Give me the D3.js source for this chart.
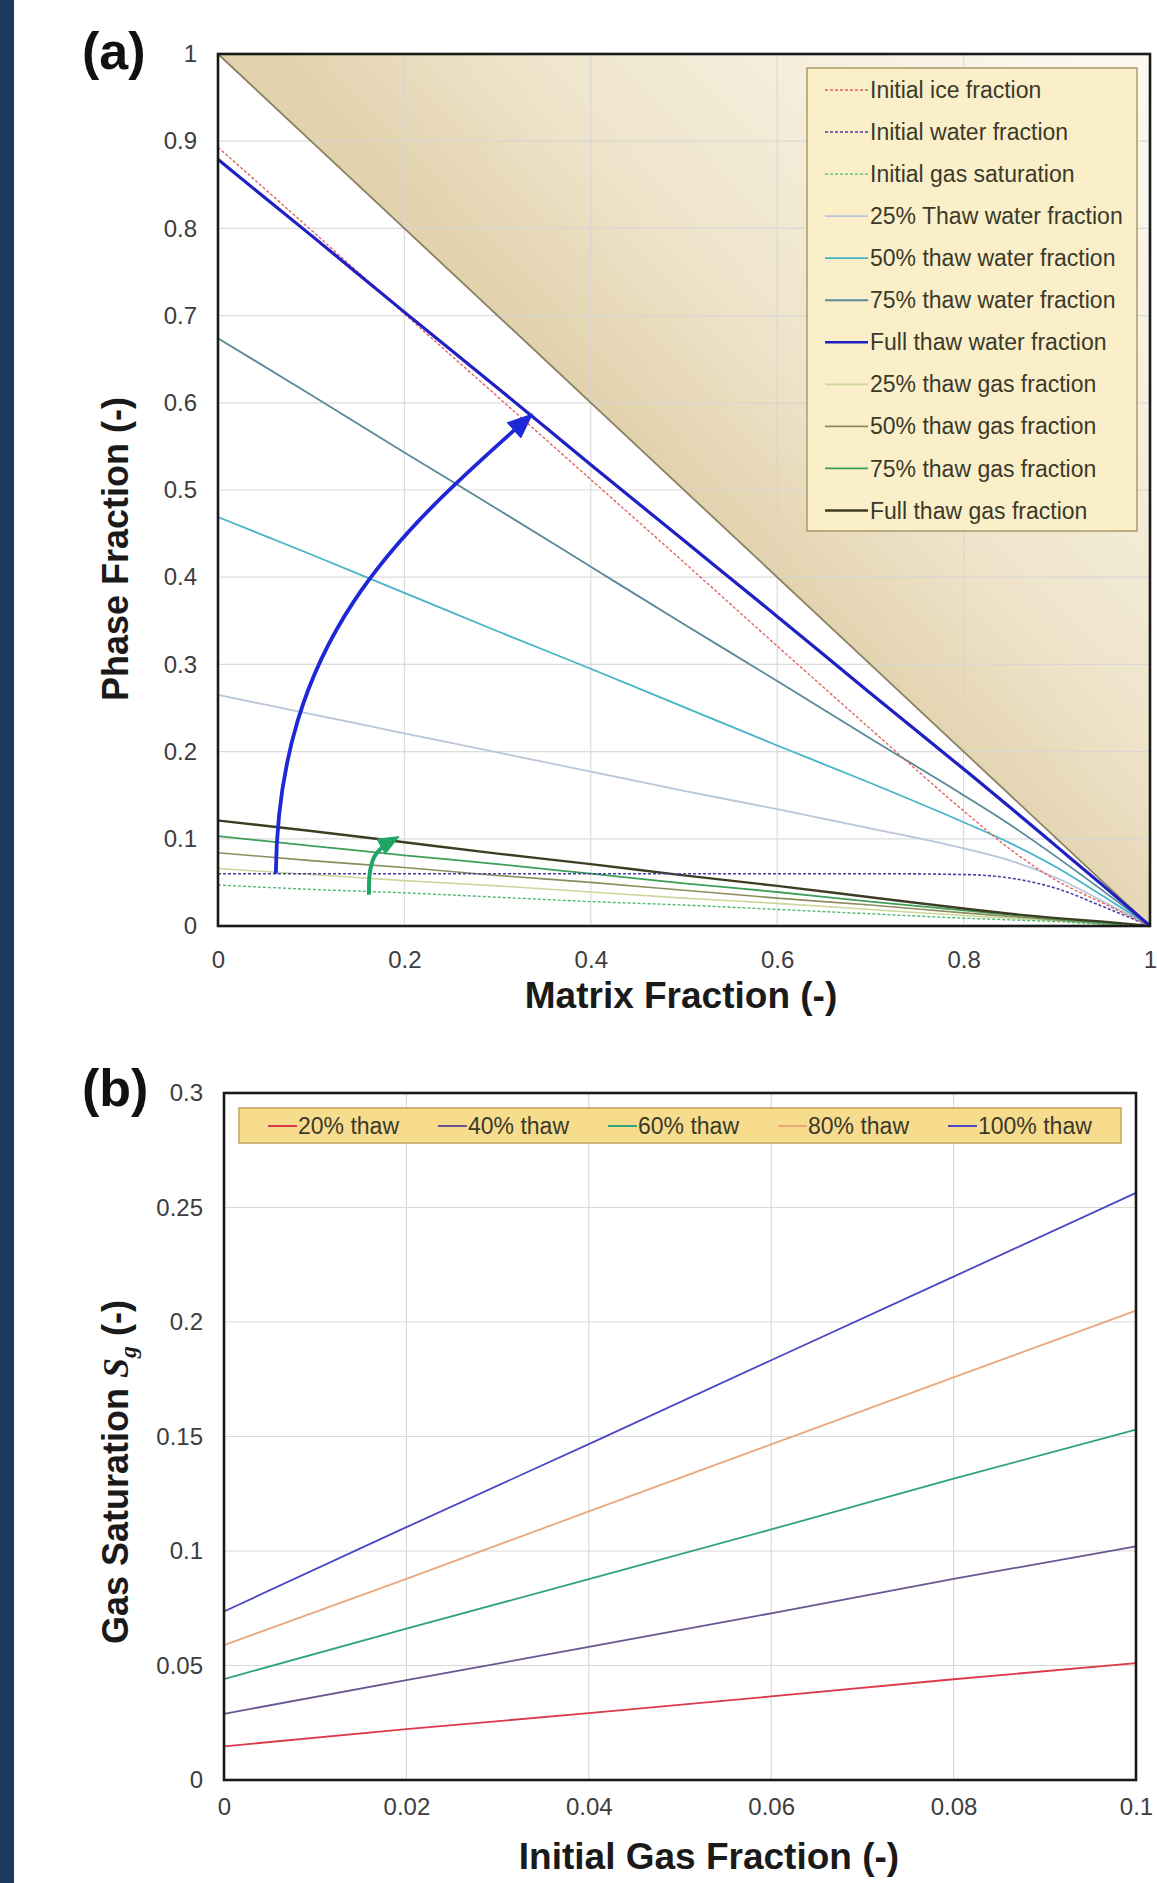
<!DOCTYPE html>
<html><head><meta charset="utf-8">
<script src="https://cdn.jsdelivr.net/npm/d3@7"></script>
<style>
html,body{margin:0;padding:0;background:#fff;}
svg{display:block;}
</style></head><body>
<svg id="chart" width="1157" height="1883"></svg>
<script>
// ================= Panel (a) data =================
const matrixX = [0, 0.1, 0.2, 0.3, 0.4, 0.5, 0.6, 0.7, 0.8, 0.85, 0.9, 0.95, 1];
const initialIce   = [0.893, 0.798, 0.702, 0.607, 0.512, 0.417, 0.321, 0.226, 0.132, 0.088, 0.052, 0.026, 0];
const initialWater = [0.060, 0.060, 0.060, 0.060, 0.060, 0.060, 0.060, 0.060, 0.059, 0.055, 0.043, 0.022, 0];
const initialGas   = [0.047, 0.042, 0.038, 0.033, 0.028, 0.024, 0.019, 0.014, 0.009, 0.007, 0.005, 0.002, 0];
const thaw25Water  = [0.265, 0.243, 0.221, 0.199, 0.177, 0.155, 0.134, 0.112, 0.089, 0.075, 0.055, 0.028, 0];
const thaw50Water  = [0.469, 0.426, 0.382, 0.338, 0.295, 0.251, 0.207, 0.164, 0.119, 0.095, 0.067, 0.034, 0];
const thaw75Water  = [0.674, 0.609, 0.543, 0.478, 0.412, 0.346, 0.281, 0.215, 0.150, 0.116, 0.079, 0.040, 0];
const fullWater    = [0.879, 0.792, 0.704, 0.617, 0.529, 0.442, 0.355, 0.267, 0.180, 0.136, 0.091, 0.046, 0];
const thaw25Gas    = [0.066, 0.059, 0.052, 0.046, 0.039, 0.032, 0.026, 0.019, 0.012, 0.009, 0.006, 0.003, 0];
const thaw50Gas    = [0.084, 0.075, 0.067, 0.058, 0.050, 0.041, 0.032, 0.024, 0.015, 0.011, 0.007, 0.003, 0];
const thaw75Gas    = [0.103, 0.092, 0.081, 0.071, 0.060, 0.049, 0.039, 0.028, 0.018, 0.013, 0.008, 0.004, 0];
const fullGas      = [0.121, 0.109, 0.096, 0.083, 0.071, 0.058, 0.046, 0.033, 0.020, 0.014, 0.009, 0.005, 0];
const boundaryLine = [[0, 1], [1, 0]];
const shadeTriangle = [[0, 1], [1, 1], [1, 0]];
// blue arrow: start, two Bezier control points, end (data units)
const blueArrowBezier = [[0.062, 0.06], [0.065, 0.33], [0.193, 0.45], [0.333, 0.583]];
const greenArrowPts = [[0.162, 0.036], [0.163, 0.062], [0.168, 0.08], [0.177, 0.091], [0.19, 0.1]];
const seriesNamesA = ["Initial ice fraction", "Initial water fraction", "Initial gas saturation",
  "25% Thaw water fraction", "50% thaw water fraction", "75% thaw water fraction", "Full thaw water fraction",
  "25% thaw gas fraction", "50% thaw gas fraction", "75% thaw gas fraction", "Full thaw gas fraction"];
const seriesValuesA = [initialIce, initialWater, initialGas, thaw25Water, thaw50Water, thaw75Water, fullWater,
  thaw25Gas, thaw50Gas, thaw75Gas, fullGas];
const xTicksA = [0, 0.2, 0.4, 0.6, 0.8, 1];
const xTickLabelsA = ["0", "0.2", "0.4", "0.6", "0.8", "1"];
const yTicksA = [0, 0.1, 0.2, 0.3, 0.4, 0.5, 0.6, 0.7, 0.8, 0.9, 1];
const yTickLabelsA = ["0", "0.1", "0.2", "0.3", "0.4", "0.5", "0.6", "0.7", "0.8", "0.9", "1"];

// ================= Panel (b) data =================
const initialGasX = [0, 0.02, 0.04, 0.06, 0.08, 0.1];
const seriesNamesB = ["20% thaw", "40% thaw", "60% thaw", "80% thaw", "100% thaw"];
const thaw20 = [0.0147, 0.0222, 0.0292, 0.0365, 0.0440, 0.0510];
const thaw40 = [0.0289, 0.0436, 0.0581, 0.0728, 0.0878, 0.1020];
const thaw60 = [0.0441, 0.0661, 0.0877, 0.1094, 0.1316, 0.1530];
const thaw80 = [0.0589, 0.0878, 0.1173, 0.1466, 0.1758, 0.2050];
const thaw100 = [0.0736, 0.1104, 0.1467, 0.1833, 0.2198, 0.2564];
const seriesValuesB = [thaw20, thaw40, thaw60, thaw80, thaw100];
const xTicksB = [0, 0.02, 0.04, 0.06, 0.08, 0.1];
const xTickLabelsB = ["0", "0.02", "0.04", "0.06", "0.08", "0.1"];
const yTicksB = [0, 0.05, 0.1, 0.15, 0.2, 0.25, 0.3];
const yTickLabelsB = ["0", "0.05", "0.1", "0.15", "0.2", "0.25", "0.3"];

// ================= Styles =================
const stylesA = [
  {color: "#e2625c", width: 1.4, dash: "3,2"},
  {color: "#4a3fa8", width: 1.6, dash: "3,2"},
  {color: "#4fb874", width: 1.4, dash: "3,2"},
  {color: "#b9c6da", width: 1.8, dash: null},
  {color: "#45b4c6", width: 1.8, dash: null},
  {color: "#5a8899", width: 1.8, dash: null},
  {color: "#1f1fc4", width: 3.2, dash: null},
  {color: "#ccd79a", width: 1.6, dash: null},
  {color: "#8c8c5c", width: 1.6, dash: null},
  {color: "#3f9e58", width: 1.8, dash: null},
  {color: "#3d3d22", width: 2.4, dash: null}
];
const drawOrderA = [7, 8, 9, 10, 2, 1, 3, 4, 5, 0, 6];
const stylesB = ["#dc3a4c", "#6b5590", "#2fa37a", "#e9a77c", "#4a48c6"];
const FONT = "'Liberation Sans', Arial, Helvetica, sans-serif";
const tickColor = "#3d3d3d";

const svg = d3.select("#chart");
svg.append("rect").attr("x", 0).attr("y", 0).attr("width", 1157).attr("height", 1883).attr("fill", "#ffffff");
svg.append("rect").attr("x", 0).attr("y", 0).attr("width", 14).attr("height", 1883).attr("fill", "#1d3a5f");

const defs = svg.append("defs");

// ================= Panel (a) =================
const xA = d3.scaleLinear().domain([0, 1]).range([218, 1150]);
const yA = d3.scaleLinear().domain([0, 1]).range([926, 54]);

const grad = defs.append("linearGradient").attr("id", "shadeGrad").attr("gradientUnits", "userSpaceOnUse")
  .attr("x1", xA(0.5)).attr("y1", yA(0.5)).attr("x2", xA(1)).attr("y2", yA(1));
grad.append("stop").attr("offset", "0").attr("stop-color", "#e2d2ae");
grad.append("stop").attr("offset", "0.25").attr("stop-color", "#eee3c9");
grad.append("stop").attr("offset", "0.6").attr("stop-color", "#f6efde");
grad.append("stop").attr("offset", "1").attr("stop-color", "#fcf9f1");

const gA = svg.append("g");
gA.append("path").datum(shadeTriangle)
  .attr("d", d3.line().x(d => xA(d[0])).y(d => yA(d[1])).curve(d3.curveLinearClosed))
  .attr("fill", "url(#shadeGrad)");

// grid
gA.selectAll(".gx").data(xTicksA.slice(1, -1)).enter().append("line")
  .attr("x1", d => xA(d)).attr("x2", d => xA(d)).attr("y1", yA(0)).attr("y2", yA(1))
  .attr("stroke", "#d6d6d6").attr("stroke-width", 1.2).attr("opacity", 0.85);
gA.selectAll(".gy").data(yTicksA.slice(1, -1)).enter().append("line")
  .attr("y1", d => yA(d)).attr("y2", d => yA(d)).attr("x1", xA(0)).attr("x2", xA(1))
  .attr("stroke", "#d6d6d6").attr("stroke-width", 1.2).attr("opacity", 0.85);

gA.append("path").datum(boundaryLine)
  .attr("d", d3.line().x(d => xA(d[0])).y(d => yA(d[1])))
  .attr("stroke", "#8a8163").attr("stroke-width", 1.8).attr("fill", "none");

const lineA = d3.line().x((d, i) => xA(matrixX[i])).y(d => yA(d)).curve(d3.curveMonotoneX);
drawOrderA.forEach(k => {
  const s = stylesA[k];
  gA.append("path").datum(seriesValuesA[k]).attr("d", lineA)
    .attr("fill", "none").attr("stroke", s.color).attr("stroke-width", s.width)
    .attr("stroke-dasharray", s.dash);
});

// arrows
function marker(id, color, w, h) {
  const m = defs.append("marker").attr("id", id).attr("viewBox", "0 0 12 10")
    .attr("refX", 9).attr("refY", 5).attr("markerWidth", w).attr("markerHeight", h)
    .attr("markerUnits", "userSpaceOnUse").attr("orient", "auto");
  m.append("path").attr("d", "M0,0 L12,5 L0,10 Z").attr("fill", color);
}
marker("arrowBlue", "#1f28d6", 26, 22);
marker("arrowGreen", "#1ea565", 22, 19);
const bp = d3.path();
const bz = blueArrowBezier.map(d => [xA(d[0]), yA(d[1])]);
bp.moveTo(bz[0][0], bz[0][1]);
bp.bezierCurveTo(bz[1][0], bz[1][1], bz[2][0], bz[2][1], bz[3][0], bz[3][1]);
gA.append("path").attr("d", bp.toString()).attr("fill", "none")
  .attr("stroke", "#1f28d6").attr("stroke-width", 3.8).attr("marker-end", "url(#arrowBlue)");
const greenLine = d3.line().x(d => xA(d[0])).y(d => yA(d[1])).curve(d3.curveCatmullRom);
gA.append("path").datum(greenArrowPts).attr("d", greenLine).attr("fill", "none")
  .attr("stroke", "#1ea565").attr("stroke-width", 4).attr("marker-end", "url(#arrowGreen)");

// legend (a)
const legA = gA.append("g");
legA.append("rect").attr("x", 807).attr("y", 68).attr("width", 330).attr("height", 463)
  .attr("fill", "#fbefc9").attr("stroke", "#a89a6a").attr("stroke-width", 1.5);
seriesNamesA.forEach((name, i) => {
  const yy = 90 + i * 42.05;
  const s = stylesA[i];
  legA.append("line").attr("x1", 825).attr("x2", 868).attr("y1", yy).attr("y2", yy)
    .attr("stroke", s.color).attr("stroke-width", Math.min(s.width, 2.6)).attr("stroke-dasharray", s.dash);
  legA.append("text").attr("x", 870).attr("y", yy).attr("dy", "0.35em")
    .attr("font-family", FONT).attr("font-size", 23).attr("fill", "#3a3a2a").text(name);
});

// frame
gA.append("rect").attr("x", xA(0)).attr("y", yA(1)).attr("width", xA(1) - xA(0)).attr("height", yA(0) - yA(1))
  .attr("fill", "none").attr("stroke", "#1a1a1a").attr("stroke-width", 2.6);

// axes (a)
const axYA = gA.append("g").attr("transform", `translate(${xA(0)},0)`)
  .call(d3.axisLeft(yA).tickValues(yTicksA).tickSize(0).tickPadding(21).tickFormat((d, i) => yTickLabelsA[i]));
const axXA = gA.append("g").attr("transform", `translate(0,${yA(0)})`)
  .call(d3.axisBottom(xA).tickValues(xTicksA).tickSize(0).tickPadding(25).tickFormat((d, i) => xTickLabelsA[i]));
[axYA, axXA].forEach(ax => {
  ax.select(".domain").remove();
  ax.selectAll("text").attr("font-family", FONT).attr("font-size", 24).attr("fill", tickColor);
});

gA.append("text").attr("x", 681).attr("y", 1008).attr("text-anchor", "middle")
  .attr("font-family", FONT).attr("font-size", 37).attr("font-weight", "bold").attr("fill", "#1a1a1a")
  .text("Matrix Fraction (-)");
gA.append("text").attr("transform", "translate(128,549) rotate(-90)").attr("text-anchor", "middle")
  .attr("font-family", FONT).attr("font-size", 36).attr("font-weight", "bold").attr("fill", "#1a1a1a")
  .text("Phase Fraction (-)");
gA.append("text").attr("x", 82).attr("y", 69)
  .attr("font-family", FONT).attr("font-size", 52).attr("font-weight", "bold").attr("fill", "#111")
  .text("(a)");

// ================= Panel (b) =================
const xB = d3.scaleLinear().domain([0, 0.1]).range([224, 1136]);
const yB = d3.scaleLinear().domain([0, 0.3]).range([1780, 1093]);
const gB = svg.append("g");

gB.selectAll(".gx").data(xTicksB.slice(1, -1)).enter().append("line")
  .attr("x1", d => xB(d)).attr("x2", d => xB(d)).attr("y1", yB(0)).attr("y2", yB(0.3))
  .attr("stroke", "#d9d9d9").attr("stroke-width", 1.2);
gB.selectAll(".gy").data(yTicksB.slice(1, -1)).enter().append("line")
  .attr("y1", d => yB(d)).attr("y2", d => yB(d)).attr("x1", xB(0)).attr("x2", xB(0.1))
  .attr("stroke", "#d9d9d9").attr("stroke-width", 1.2);

const lineB = d3.line().x((d, i) => xB(initialGasX[i])).y(d => yB(d));
seriesValuesB.forEach((vals, k) => {
  gB.append("path").datum(vals).attr("d", lineB).attr("fill", "none")
    .attr("stroke", stylesB[k]).attr("stroke-width", 1.8);
});

// legend (b)
const legB = gB.append("g");
legB.append("rect").attr("x", 239).attr("y", 1108).attr("width", 882).attr("height", 35)
  .attr("fill", "#f8dc8e").attr("stroke", "#c2a458").attr("stroke-width", 1.5);
seriesNamesB.forEach((name, i) => {
  const tx = 300 + i * 170;
  legB.append("line").attr("x1", tx - 32).attr("x2", tx - 3).attr("y1", 1126).attr("y2", 1126)
    .attr("stroke", stylesB[i]).attr("stroke-width", 2);
  legB.append("text").attr("x", tx - 2).attr("y", 1126).attr("dy", "0.35em")
    .attr("font-family", FONT).attr("font-size", 23).attr("fill", "#3a3a2a").text(name);
});

gB.append("rect").attr("x", xB(0)).attr("y", yB(0.3)).attr("width", xB(0.1) - xB(0)).attr("height", yB(0) - yB(0.3))
  .attr("fill", "none").attr("stroke", "#1a1a1a").attr("stroke-width", 2.6);

const axYB = gB.append("g").attr("transform", `translate(${xB(0)},0)`)
  .call(d3.axisLeft(yB).tickValues(yTicksB).tickSize(0).tickPadding(21).tickFormat((d, i) => yTickLabelsB[i]));
const axXB = gB.append("g").attr("transform", `translate(0,${yB(0)})`)
  .call(d3.axisBottom(xB).tickValues(xTicksB).tickSize(0).tickPadding(18).tickFormat((d, i) => xTickLabelsB[i]));
[axYB, axXB].forEach(ax => {
  ax.select(".domain").remove();
  ax.selectAll("text").attr("font-family", FONT).attr("font-size", 24).attr("fill", tickColor);
});

gB.append("text").attr("x", 709).attr("y", 1869).attr("text-anchor", "middle")
  .attr("font-family", FONT).attr("font-size", 37).attr("font-weight", "bold").attr("fill", "#1a1a1a")
  .text("Initial Gas Fraction (-)");
const yTitleB = gB.append("text").attr("transform", "translate(128,1472) rotate(-90)").attr("text-anchor", "middle")
  .attr("font-family", FONT).attr("font-size", 36).attr("font-weight", "bold").attr("fill", "#1a1a1a");
yTitleB.append("tspan").text("Gas Saturation ");
yTitleB.append("tspan").attr("font-family", "'Liberation Serif', 'Times New Roman', serif").attr("font-style", "italic").text("S");
yTitleB.append("tspan").attr("font-family", "'Liberation Serif', 'Times New Roman', serif").attr("font-style", "italic")
  .attr("font-size", 24).attr("dy", 8).text("g");
yTitleB.append("tspan").attr("dy", -8).text(" (-)");
gB.append("text").attr("x", 82).attr("y", 1106)
  .attr("font-family", FONT).attr("font-size", 52).attr("font-weight", "bold").attr("fill", "#111")
  .text("(b)");
</script>
</body></html>
